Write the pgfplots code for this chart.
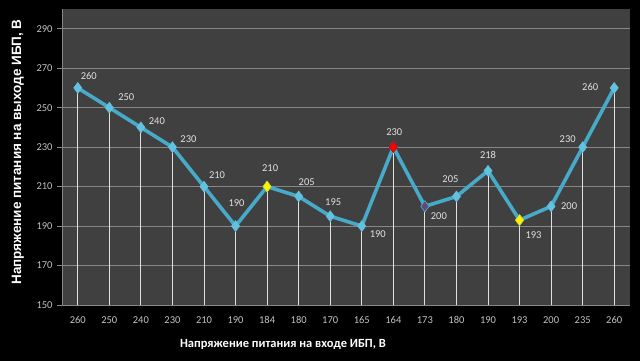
\documentclass[border=0pt]{standalone}
\usepackage{pgfplots}
\usepackage{pgfplotstable}
\pgfplotsset{compat=1.18}
\usepackage{fontspec}
\setmainfont{Carlito}
\newfontfamily\arialfont{Liberation Sans}
\definecolor{bg}{RGB}{64,64,64}
\definecolor{linec}{RGB}{70,170,200}
\definecolor{markc}{RGB}{95,195,225}
\definecolor{gridc}{RGB}{135,135,135}
\definecolor{tickc}{RGB}{195,195,195}
\definecolor{labc}{RGB}{225,225,225}
\definecolor{purp}{RGB}{96,74,123}

\pgfplotstableread{
x y dx dy
0 260 11 12
1 250 17 11
2 240 16 6
3 230 16 8
4 210 13 11
5 190 1 23
6 210 3 18
7 205 8 14
8 195 3 14
9 190 16 -8
10 230 1 15
11 200 14 -10
12 205 -6 17
13 218 0 16
14 193 14 -15
15 200 18 0
16 230 -15 8
17 260 -24 1
}\data

\begin{document}
\begin{tikzpicture}
\fill[black] (-62pt,-56pt) rectangle (578pt,305pt);
\begin{axis}[
  at={(0,0)}, anchor=south west,
  scale only axis, width=568pt, height=296pt,
  xmin=-0.5, xmax=17.5, ymin=150, ymax=300,
  ytick={150,170,...,290},
  xtick={0,...,17},
  xticklabels={260,250,240,230,210,190,184,180,170,165,164,173,180,190,193,200,235,260},
  ymajorgrids,
  grid style={gridc, line width=0.6pt},
  axis background/.style={fill=bg},
  axis x line*=bottom, axis y line*=left,
  axis line style={gridc, line width=0.6pt},
  tick align=outside,
  major tick length=5pt,
  ytick style={gridc, line width=0.6pt},
  xtick style={draw=none},
  ticklabel style={font=\fontsize{10.5}{12}\selectfont, text=tickc},
  yticklabel style={xshift=-1pt},
  xticklabel style={yshift=-3pt},
  /pgf/number format/assume math mode=true,
  xlabel={Напряжение питания на входе ИБП, В},
  ylabel={Напряжение питания на выходе ИБП, В},
  every axis x label/.style={at={([yshift=-39pt]axis description cs:0.389,0)}, anchor=center, font=\fontsize{12.5}{15}\selectfont\bfseries, text=white},
  every axis y label/.style={at={([xshift=-44pt]axis description cs:0,0.517)}, anchor=center, rotate=90, font=\arialfont\fontsize{13.5}{15}\selectfont\bfseries, text=white},
]
\addplot[ycomb, draw=white!88!black, line width=0.8pt, no markers] table[x=x,y=y] {\data};
\addplot[linec, line width=3.6pt, mark=diamond*, mark size=5.5pt,
  mark options={fill=markc, draw=linec!80!white, line width=0.5pt}] table[x=x,y=y] {\data};
\addplot[only marks, mark=diamond*, mark size=5.5pt, mark options={fill=yellow, draw=yellow!80!black, line width=0.5pt}] coordinates {(6,210) (14,193)};
\addplot[only marks, mark=diamond*, mark size=5.5pt, mark options={fill=red, draw=red!70!black, line width=0.5pt}] coordinates {(10,230)};
\addplot[only marks, mark=diamond*, mark size=5.5pt, mark options={fill=purp, draw=linec, line width=0.5pt}] coordinates {(11,200)};
\addplot[draw=none, no markers,
  visualization depends on={\thisrow{dx}\as\dx},
  visualization depends on={\thisrow{dy}\as\dy},
  nodes near coords,
  point meta=y,
  nodes near coords style={anchor=center, xshift=\dx pt, yshift=\dy pt, font=\fontsize{10.5}{12}\selectfont, text=labc, /pgf/number format/fixed, /pgf/number format/assume math mode=true},
] table[x=x,y=y] {\data};
\end{axis}
\end{tikzpicture}
\end{document}
